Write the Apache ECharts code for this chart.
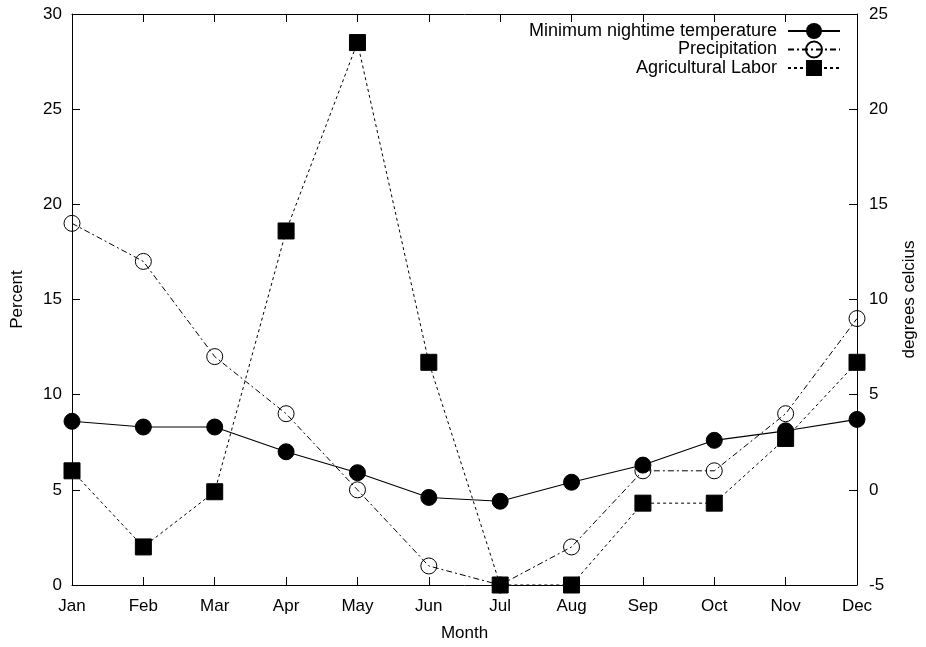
<!DOCTYPE html>
<html>
<head>
<meta charset="utf-8">
<script src="https://cdn.jsdelivr.net/npm/echarts@6/dist/echarts.min.js"></script>
<style>html,body{margin:0;padding:0;background:#fff;overflow:hidden}#c{width:926px;height:647px}</style>
</head>
<body>
<div id="c"></div>
<script>
var months = ['Jan','Feb','Mar','Apr','May','Jun','Jul','Aug','Sep','Oct','Nov','Dec'];
var minTemp = [3.6, 3.3, 3.3, 2.0, 0.9, -0.4, -0.6, 0.4, 1.3, 2.6, 3.1, 3.7];
var precipitation = [19, 17, 12, 9, 5, 1, 0, 2, 6, 6, 9, 14];
var labor = [6, 2, 4.9, 18.6, 28.5, 11.7, 0, 0, 4.3, 4.3, 7.7, 11.7];
var percentTicks = [0, 30, 5];
var tempTicks = [-5, 25, 5];

var FONT = 'Liberation Sans';
var FS = 17;
var chart = echarts.init(document.getElementById('c'));
var axisLine = {show: true, onZero: false, lineStyle: {color: '#000', width: 1}};
var tick = {show: true, inside: true, length: 8, lineStyle: {color: '#000', width: 1}};
var nameStyle = {fontFamily: FONT, fontSize: FS, color: '#000'};
chart.setOption({
  animation: false,
  backgroundColor: '#fff',
  textStyle: {fontFamily: FONT, color: '#000'},
  grid: {left: 72, right: 63, top: 14, bottom: 55},
  legend: {
    orient: 'vertical', right: 80, top: 17, align: 'right',
    itemWidth: 52, itemHeight: 20, itemGap: 0.5,
    textStyle: {fontFamily: FONT, fontSize: 18, color: '#000', lineHeight: 18, padding: [0, 6, 0, 0]},
    data: ['Minimum nightime temperature', 'Precipitation', 'Agricultural Labor']
  },
  xAxis: [{
    type: 'category', data: months, boundaryGap: false, position: 'bottom',
    name: 'Month', nameLocation: 'middle', nameGap: 40, nameTextStyle: nameStyle,
    axisLine: axisLine, axisTick: tick,
    axisLabel: {fontFamily: FONT, fontSize: FS, color: '#000', margin: 13},
    splitLine: {show: false}
  }, {
    type: 'category', data: months, boundaryGap: false, position: 'top',
    axisLine: axisLine, axisTick: tick,
    axisLabel: {show: false}, splitLine: {show: false}
  }],
  yAxis: [{
    type: 'value', min: percentTicks[0], max: percentTicks[1], interval: percentTicks[2], position: 'left',
    name: 'Percent', nameLocation: 'middle', nameGap: 46, nameRotate: 90, nameTextStyle: nameStyle,
    axisLine: axisLine, axisTick: tick,
    axisLabel: {fontFamily: FONT, fontSize: FS, color: '#000', margin: 10},
    splitLine: {show: false}
  }, {
    type: 'value', min: tempTicks[0], max: tempTicks[1], interval: tempTicks[2], position: 'right',
    name: 'degrees celcius', nameLocation: 'middle', nameGap: 44, nameRotate: 90, nameTextStyle: nameStyle,
    axisLine: axisLine, axisTick: tick,
    axisLabel: {fontFamily: FONT, fontSize: FS, color: '#000', margin: 12},
    splitLine: {show: false}
  }],
  series: [{
    name: 'Minimum nightime temperature', type: 'line', yAxisIndex: 1, data: minTemp,
    symbol: 'circle', symbolSize: 16, showAllSymbol: true,
    lineStyle: {color: '#000', width: 1.1, type: 'solid'},
    itemStyle: {color: '#000', borderColor: '#000'}, z: 3
  }, {
    name: 'Precipitation', type: 'line', yAxisIndex: 0, data: precipitation,
    symbol: 'circle', symbolSize: 16, showAllSymbol: true,
    lineStyle: {color: '#000', width: 1, type: [6, 3, 2, 3]},
    itemStyle: {color: 'rgba(255,255,255,0)', borderColor: '#000', borderWidth: 1}, z: 2
  }, {
    name: 'Agricultural Labor', type: 'line', yAxisIndex: 0, data: labor,
    symbol: 'rect', symbolSize: 16, showAllSymbol: true,
    lineStyle: {color: '#000', width: 1, type: [3, 3]},
    itemStyle: {color: '#000', borderColor: '#000'}, z: 4
  }]
});
</script>
</body>
</html>
